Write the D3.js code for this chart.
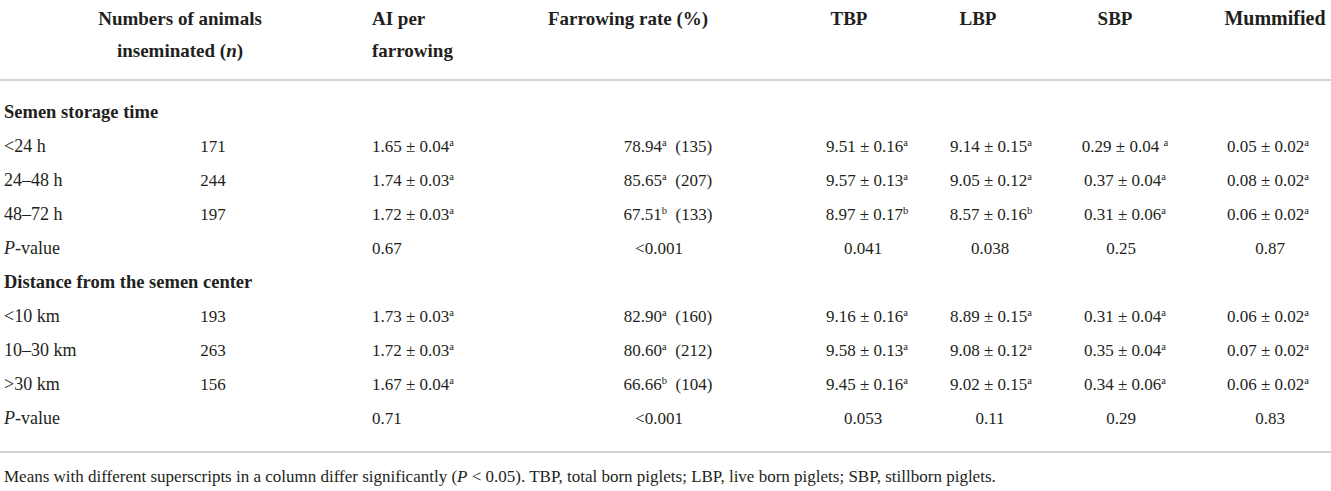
<!DOCTYPE html>
<html><head><meta charset="utf-8">
<script src="https://cdn.jsdelivr.net/npm/d3@7"></script>
<style>
html,body{margin:0;padding:0;background:#fff;}
svg{display:block;font-family:"Liberation Serif","DejaVu Serif",serif;fill:#231f20;}
</style></head>
<body>
<svg id="t" width="1331" height="491"></svg>
<script>
// ---- data ----
const columns = ["Numbers of animals|inseminated (n)", "AI per|farrowing", "Farrowing rate (%)", "TBP", "LBP", "SBP", "Mummified"];
const groups = ["Semen storage time", "Distance from the semen center"];
const levels = [["<24 h", "24–48 h", "48–72 h"], ["<10 km", "10–30 km", ">30 km"]];
const nAnimals = [[171, 244, 197], [193, 263, 156]];
const aiMean = [["1.65", "1.74", "1.72"], ["1.73", "1.72", "1.67"]];
const aiSE = [["0.04", "0.03", "0.03"], ["0.03", "0.03", "0.04"]];
const aiSup = [["a", "a", "a"], ["a", "a", "a"]];
const farrowRate = [["78.94", "85.65", "67.51"], ["82.90", "80.60", "66.66"]];
const farrowSup = [["a", "a", "b"], ["a", "a", "b"]];
const farrowCount = [[135, 207, 133], [160, 212, 104]];
const tbpMean = [["9.51", "9.57", "8.97"], ["9.16", "9.58", "9.45"]];
const tbpSE = [["0.16", "0.13", "0.17"], ["0.16", "0.13", "0.16"]];
const tbpSup = [["a", "a", "b"], ["a", "a", "a"]];
const lbpMean = [["9.14", "9.05", "8.57"], ["8.89", "9.08", "9.02"]];
const lbpSE = [["0.15", "0.12", "0.16"], ["0.15", "0.12", "0.15"]];
const lbpSup = [["a", "a", "b"], ["a", "a", "a"]];
const sbpMean = [["0.29", "0.37", "0.31"], ["0.31", "0.35", "0.34"]];
const sbpSE = [["0.04", "0.04", "0.06"], ["0.04", "0.04", "0.06"]];
const sbpSup = [["a", "a", "a"], ["a", "a", "a"]];
const mumMean = [["0.05", "0.08", "0.06"], ["0.06", "0.07", "0.06"]];
const mumSE = [["0.02", "0.02", "0.02"], ["0.02", "0.02", "0.02"]];
const mumSup = [["a", "a", "a"], ["a", "a", "a"]];
const pValues = [["0.67", "<0.001", "0.041", "0.038", "0.25", "0.87"], ["0.71", "<0.001", "0.053", "0.11", "0.29", "0.83"]];
const footnote = "Means with different superscripts in a column differ significantly (|P| < 0.05). TBP, total born piglets; LBP, live born piglets; SBP, stillborn piglets.";

// ---- layout ----
const W = 1331, H = 491;
const svg = d3.select("#t");
const ink = "#231f20", rule = "#c4c4c4";
const valueSize = 17, labelSize = 18, groupSize = 18.5, headSize = 19, noteSize = 17;

const colLayout = [
  {hx: 180, ha: "middle", vx: 213, va: "middle"},
  {hx: 372, ha: "start", vx: 372, va: "start"},
  {hx: 548, ha: "start", vx: 668, va: "middle", px: 659},
  {hx: 849, ha: "middle", vx: 867, va: "middle", px: 863},
  {hx: 978, ha: "middle", vx: 991, va: "middle", px: 990},
  {hx: 1115, ha: "middle", vx: 1125, va: "middle", px: 1121},
  {hx: 1275, ha: "middle", vx: 1268, va: "middle", px: 1270, hs: 20}
];

const rows = [];
groups.forEach((g, gi) => {
  rows.push({type: "group", label: g});
  levels[gi].forEach((l, li) => rows.push({type: "level", gi, li, label: l}));
  rows.push({type: "p", gi, label: "P-value"});
});
const y = d3.scalePoint().domain(d3.range(rows.length)).range([112, 418]);
const headerY = d3.scalePoint().domain([0, 1]).range([18, 50]);

function mean(m, se, sup) {
  return [{t: m + " ± " + se}, {t: sup, sup: true}];
}
function rowCells(r) {
  if (r.type === "group") return [];
  if (r.type === "p") {
    return pValues[r.gi].map((v, i) => ({col: i + 1, parts: [{t: v}], p: true}));
  }
  const g = r.gi, i = r.li;
  return [
    {col: 0, parts: [{t: String(nAnimals[g][i])}]},
    {col: 1, parts: mean(aiMean[g][i], aiSE[g][i], aiSup[g][i])},
    {col: 2, parts: [{t: farrowRate[g][i]}, {t: farrowSup[g][i], sup: true}, {t: "\u00a0 (" + farrowCount[g][i] + ")"}]},
    {col: 3, parts: mean(tbpMean[g][i], tbpSE[g][i], tbpSup[g][i])},
    {col: 4, parts: mean(lbpMean[g][i], lbpSE[g][i], lbpSup[g][i])},
    {col: 5, parts: (g === 0 && i === 0) ? [{t: sbpMean[g][i] + " ± " + sbpSE[g][i] + " "}, {t: sbpSup[g][i], sup: true}] : mean(sbpMean[g][i], sbpSE[g][i], sbpSup[g][i])},
    {col: 6, parts: mean(mumMean[g][i], mumSE[g][i], mumSup[g][i])}
  ];
}

function writeParts(sel, parts) {
  let prevSup = false;
  parts.forEach(p => {
    const ts = sel.append("tspan").text(p.t);
    if (p.sup) ts.attr("font-size", "0.62em").attr("dy", "-0.58em");
    else if (prevSup) ts.attr("dy", "0.36em");
    prevSup = !!p.sup;
  });
}

// header
columns.forEach((c, ci) => {
  const lines = c.split("|");
  const L = colLayout[ci];
  lines.forEach((ln, li) => {
    const t = svg.append("text")
      .attr("x", L.hx).attr("y", headerY(li)).attr("dy", "0.35em")
      .attr("text-anchor", L.ha).attr("font-weight", "bold").attr("font-size", L.hs || headSize).attr("fill", ink);
    const m = ln.match(/^(.*)\((n)\)$/);
    if (m) {
      t.append("tspan").text(m[1] + "(");
      t.append("tspan").text("n").attr("font-style", "italic");
      t.append("tspan").text(")");
    } else t.text(ln);
  });
});

// rules
[80, 452].forEach(ry => svg.append("line").attr("x1", 0).attr("x2", W).attr("y1", ry).attr("y2", ry)
  .attr("stroke", rule).attr("stroke-width", 1.5));

// body
rows.forEach((r, ri) => {
  const yy = y(ri);
  const lab = svg.append("text").attr("x", 4).attr("y", yy).attr("dy", "0.35em").attr("fill", ink);
  if (r.type === "group") lab.attr("font-weight", "bold").attr("font-size", groupSize).text(r.label);
  else if (r.type === "p") {
    lab.attr("font-size", labelSize);
    lab.append("tspan").text("P").attr("font-style", "italic");
    lab.append("tspan").text("-value");
  } else lab.attr("font-size", labelSize).text(r.label);

  rowCells(r).forEach(c => {
    const L = colLayout[c.col];
    const x = c.p && L.px ? L.px : L.vx;
    const t = svg.append("text").attr("x", x).attr("y", yy).attr("dy", "0.35em")
      .attr("text-anchor", L.va).attr("font-size", valueSize).attr("fill", ink);
    writeParts(t, c.parts);
  });
});

// footnote
const fn = svg.append("text").attr("x", 4).attr("y", 476).attr("dy", "0.35em")
  .attr("font-size", noteSize).attr("fill", ink);
footnote.split("|").forEach((s, i) => {
  const ts = fn.append("tspan").text(s);
  if (i === 1) ts.attr("font-style", "italic");
});
</script>
</body></html>
